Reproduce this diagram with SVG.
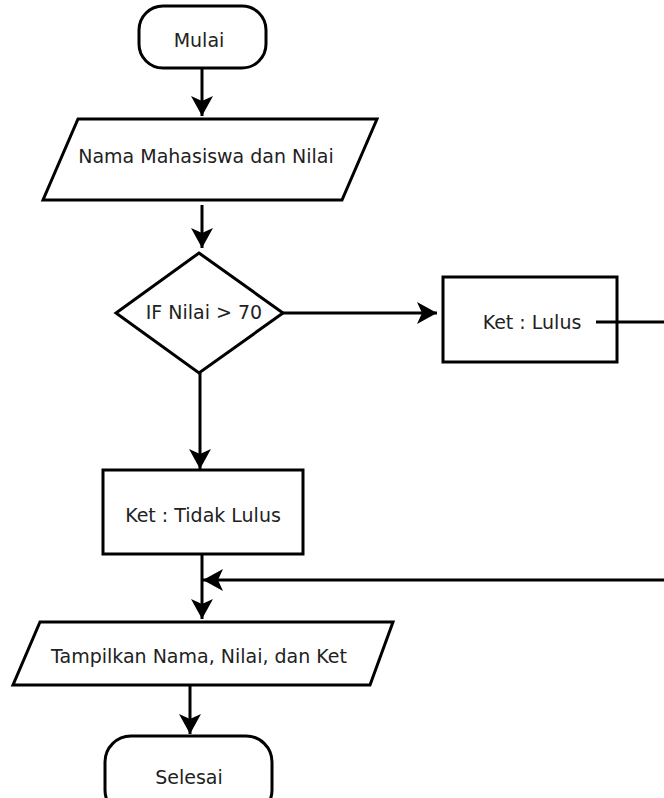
<svg xmlns="http://www.w3.org/2000/svg" width="664" height="798" viewBox="0 0 664 798">
<defs>
<style>
.s{fill:#fff;stroke:#000;stroke-width:3;stroke-linejoin:miter}
.t{font-family:"DejaVu Sans",Verdana,sans-serif;font-size:19px;fill:#222;text-anchor:middle}
.c{fill:none;stroke:#000;stroke-width:3}
</style>
<marker id="ah" markerUnits="userSpaceOnUse" markerWidth="20" markerHeight="22" refX="20" refY="11" orient="auto">
<path d="M0,0 L20,11 L0,22 L5,11 Z" fill="#000"/>
</marker>
</defs>
<rect width="664" height="798" fill="#fff"/>
<g id="mulai">
<rect class="s" x="139" y="6" width="127" height="62" rx="24"/>
<text class="t" x="199" y="47">Mulai</text>
</g>
<g id="input">
<polygon class="s" points="78,119 377,119 342,200 43,200"/>
<text class="t" x="206" y="163">Nama Mahasiswa dan Nilai</text>
</g>
<g id="decision">
<polygon class="s" points="199,253 283,313 199,373 116,313"/>
<text class="t" x="204" y="319">IF Nilai &gt; 70</text>
</g>
<g id="lulus">
<rect class="s" x="443" y="277" width="174" height="85"/>
<text class="t" x="532" y="329">Ket : Lulus</text>
</g>
<g id="tidak-lulus">
<rect class="s" x="103" y="470" width="200" height="84"/>
<text class="t" x="203" y="522">Ket : Tidak Lulus</text>
</g>
<g id="output">
<polygon class="s" points="40,622 393,622 370,685 13,685"/>
<text class="t" x="199" y="663">Tampilkan Nama, Nilai, dan Ket</text>
</g>
<g id="selesai">
<rect class="s" x="105" y="736" width="167" height="80" rx="26"/>
<text class="t" x="189" y="784">Selesai</text>
</g>
<g id="connectors">
<path class="c" d="M202,68 V116" marker-end="url(#ah)"/>
<path class="c" d="M202,205 V248" marker-end="url(#ah)"/>
<path class="c" d="M283,313 H437" marker-end="url(#ah)"/>
<path class="c" d="M200,373 V469" marker-end="url(#ah)"/>
<path class="c" d="M202,554 V619" marker-end="url(#ah)"/>
<path class="c" d="M596,322 H668 V580 H203" marker-end="url(#ah)"/>
<path class="c" d="M190,685 V734" marker-end="url(#ah)"/>
</g>
</svg>
